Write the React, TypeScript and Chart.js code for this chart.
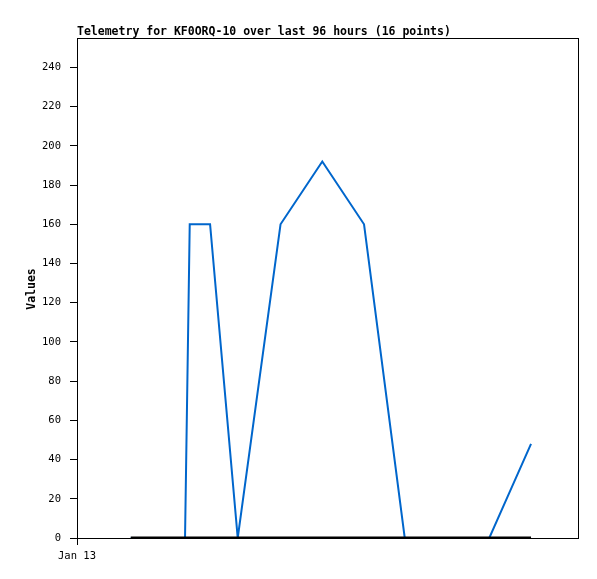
import React, { useEffect, useRef } from "react";
import { Chart, registerables } from "chart.js";

Chart.register(...registerables);

const titleText = "Telemetry for KF0ORQ-10 over last 96 hours (16 points)";
const yLabel = "Values";
const xTickLabel = "Jan 13";
// hours since start of axis
const hours = [10.3, 12.5, 15.0, 17.5, 20.7, 21.6, 25.5, 30.8, 39.0, 47.0, 55.0, 62.8, 71.0, 79.0, 83.0, 87.0];
const values = [0, 0, 0, 0, 0, 160, 160, 0, 160, 192, 160, 0, 0, 0, 24, 48];
const baseline = [0, 0, 0, 0, 0, 0, 0, 0, 0, 0, 0, 0, 0, 0, 0, 0];

const FONT = "'DejaVu Sans Mono', monospace";

export default function App() {
  const ref = useRef<HTMLCanvasElement | null>(null);
  useEffect(() => {
    const frame = {
      id: "frame",
      afterDraw(chart: any) {
        const { ctx, chartArea } = chart;
        ctx.save();
        ctx.strokeStyle = "#000";
        ctx.lineWidth = 1;
        ctx.strokeRect(chartArea.left + 0.5, chartArea.top + 0.5, chartArea.right - chartArea.left, chartArea.bottom - chartArea.top);
        ctx.fillStyle = "#000";
        ctx.font = "bold 11.5px " + FONT;
        ctx.textBaseline = "alphabetic";
        ctx.textAlign = "left";
        ctx.fillText(titleText, chartArea.left, 35);
        ctx.translate(35, 289);
        ctx.rotate(-Math.PI / 2);
        ctx.textAlign = "center";
        ctx.fillText(yLabel, 0, 0);
        ctx.restore();
      },
    };
    const chart = new Chart(ref.current!, {
      type: "line",
      data: {
        datasets: [
          {
            data: hours.map((h, i) => ({ x: h, y: baseline[i] })),
            borderColor: "#000",
            borderWidth: 3,
            pointRadius: 0,
            tension: 0,
          },
          {
            data: hours.map((h, i) => ({ x: h, y: values[i] })),
            borderColor: "#0066cc",
            borderWidth: 2,
            pointRadius: 0,
            tension: 0,
          },
        ],
      },
      options: {
        animation: false,
        responsive: false,
        layout: { padding: { top: 38, right: 19, left: 0, bottom: 0 } },
        plugins: { legend: { display: false }, tooltip: { enabled: false } },
        scales: {
          x: {
            type: "linear",
            min: 0,
            max: 96,
            afterFit: (s: any) => { s.height = 41; },
            afterBuildTicks: (s: any) => { s.ticks = [{ value: 0 }]; },
            ticks: {
              callback: () => xTickLabel,
              color: "#000",
              font: { family: FONT, size: 10.5 },
              padding: 5,
              maxRotation: 0,
              autoSkip: false,
            },
            grid: { drawOnChartArea: false, drawTicks: true, tickLength: 7, color: "#000" },
            border: { display: true, color: "#000" },
          },
          y: {
            min: 0,
            max: 255,
            afterFit: (s: any) => { s.width = 77; },
            afterBuildTicks: (s: any) => {
              const t = [];
              for (let v = 0; v <= 240; v += 20) t.push({ value: v });
              s.ticks = t;
            },
            ticks: {
              color: "#000",
              font: { family: FONT, size: 10.5 },
              padding: 9,
            },
            grid: { drawOnChartArea: false, drawTicks: true, tickLength: 7, color: "#000" },
            border: { display: true, color: "#000" },
          },
        },
      },
      plugins: [frame],
    });
    return () => chart.destroy();
  }, []);
  return (
    <canvas
      ref={ref}
      width={597}
      height={579}
      style={{ position: "absolute", left: 0, top: 0, width: 597, height: 579, background: "#fff" }}
    />
  );
}
